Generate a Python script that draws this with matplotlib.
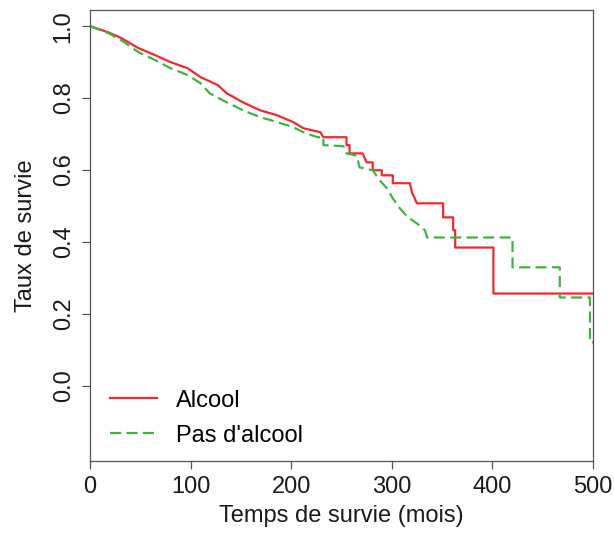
import matplotlib
matplotlib.use("Agg")
import matplotlib.pyplot as plt

# Kaplan-Meier curves read from the picture as polyline vertices
# (time in months, survival rate); corners of the steps are listed twice
alcool_t = [0, 18, 31, 48, 65, 80, 97, 110, 127, 136, 152, 169, 186, 202, 212,
            229, 232, 255, 255, 258, 258, 271, 275, 281, 281, 290, 290, 301,
            301, 318, 320, 325, 351, 351, 361, 361, 363, 363, 401, 401, 500]
alcool_s = [1.0, 0.983, 0.967, 0.939, 0.919, 0.900, 0.883, 0.858, 0.836, 0.813,
            0.788, 0.766, 0.752, 0.733, 0.716, 0.705, 0.691, 0.691, 0.669, 0.669,
            0.646, 0.646, 0.621, 0.621, 0.599, 0.599, 0.585, 0.585, 0.563, 0.563,
            0.538, 0.507, 0.507, 0.468, 0.468, 0.432, 0.432, 0.384, 0.384, 0.256,
            0.256]

sans_t = [0, 18, 31, 48, 65, 80, 97, 110, 119, 136, 152, 169, 186, 202, 212,
          226, 232, 232, 252, 255, 265, 268, 281, 288, 295, 301, 308, 316, 325,
          333, 335, 420, 420, 467, 467, 497, 497, 500]
sans_s = [1.0, 0.981, 0.961, 0.928, 0.905, 0.883, 0.864, 0.841, 0.813, 0.788,
          0.766, 0.747, 0.733, 0.719, 0.705, 0.691, 0.691, 0.669, 0.666, 0.646,
          0.640, 0.607, 0.599, 0.571, 0.549, 0.521, 0.493, 0.468, 0.451, 0.432,
          0.412, 0.412, 0.329, 0.329, 0.245, 0.245, 0.12, 0.12]

x_ticks = [0, 100, 200, 300, 400, 500]
y_ticks = [0.0, 0.2, 0.4, 0.6, 0.8, 1.0]

plt.rcParams['font.family'] = ['Liberation Sans', 'DejaVu Sans']
plt.rcParams['font.size'] = 17

fig = plt.figure(figsize=(6.14, 5.37), dpi=100)
ax = fig.add_axes([0.1466, 0.1415, 0.8192, 0.8399])

red = '#F2282E'
green = '#3DB53D'
ax.plot(alcool_t, alcool_s, color=red, lw=1.6, label='Alcool')
ax.plot(sans_t, sans_s, color=green, lw=1.6,
        dashes=(5, 2.4), label="Pas d'alcool")

ax.set_xlim(0, 500)
ax.set_ylim(-0.21, 1.045)
ax.set_xticks(x_ticks)
ax.set_yticks(y_ticks)
ax.set_yticklabels([f'{v:.1f}' for v in y_ticks], rotation=90, va='center')
ax.tick_params(direction='out', length=6, width=0.9, colors='#555555',
               labelcolor='#1a1a1a', pad=5)

for s in ax.spines.values():
    s.set_color('#555555')
    s.set_linewidth(0.9)

ax.set_xlabel('Temps de survie (mois)', color='#1a1a1a', labelpad=5)
ax.set_ylabel('Taux de survie', color='#1a1a1a', labelpad=11)

ax.legend(loc='lower left', frameon=False, handlelength=2.0,
          handletextpad=0.8, borderaxespad=0.3, labelspacing=0.55,
          bbox_to_anchor=(0.006, -0.005))

fig.savefig('out.png', dpi=100)
